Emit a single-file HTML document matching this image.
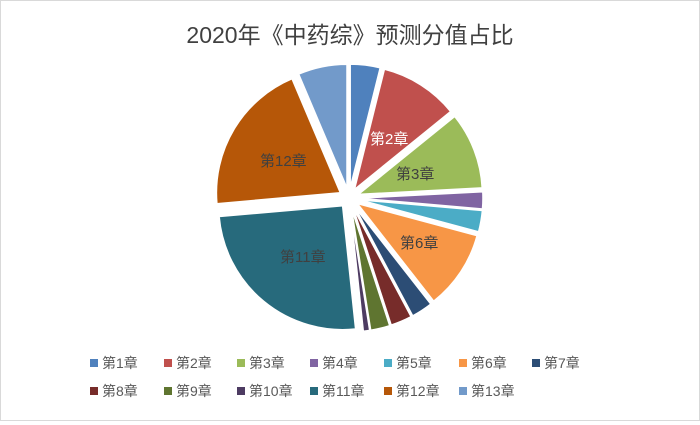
<!DOCTYPE html>
<html><head><meta charset="utf-8"><style>
body{margin:0;background:#fff}
#c{width:698px;height:419px;border:1px solid #d9d9d9;position:relative;font-family:"Liberation Sans","Noto Sans CJK SC",sans-serif}
</style></head><body><div id="c">
<svg width="698" height="419" id="s">
<text x="349" y="42" text-anchor="middle" font-size="23" fill="#404040" font-family="Liberation Sans, Noto Sans CJK SC, sans-serif">2020年《中药综》预测分值占比</text>
<g id="pie"></g>
<g font-size="15" fill="#404040" font-family="Liberation Sans, Noto Sans CJK SC, sans-serif">
<text x="369" y="143" fill="#fff">第2章</text>
<text x="395" y="178">第3章</text>
<text x="399" y="247">第6章</text>
<text x="279" y="261">第11章</text>
<text x="259" y="165">第12章</text>
</g>
<g id="leg" font-size="14" fill="#595959" font-family="Liberation Sans, Noto Sans CJK SC, sans-serif"></g>
</svg>
<script>
var b=[0,14,51,87,95,105,142,152,162,171,174,265,337,360];
var col=["#4f81bd","#c0504d","#9bbb59","#8064a2","#4bacc6","#f79646","#2c4d75","#772c2a","#5f7530","#4d3b62","#276a7c","#b65708","#729aca"];
var cx=348,cy=197,R=124,E=10,h="";
function P(a,r,ox,oy){var t=a*Math.PI/180;return [(ox+r*Math.sin(t)).toFixed(1),(oy-r*Math.cos(t)).toFixed(1)];}
for(var i=0;i<13;i++){var m=(b[i]+b[i+1])/2*Math.PI/180,ox=cx+E*Math.sin(m),oy=cy-E*Math.cos(m);
var p1=P(b[i],R,ox,oy),p2=P(b[i+1],R,ox,oy),l=(b[i+1]-b[i])>180?1:0;
h+='<path d="M'+ox.toFixed(1)+','+oy.toFixed(1)+' L'+p1+' A'+R+','+R+' 0 '+l+' 1 '+p2+' Z" fill="'+col[i]+'" stroke="#fff" stroke-width="1.5"/>';}
document.getElementById("pie").innerHTML=h;
var xs=[93,167,240,313,387,462,535],g="";
for(var i=0;i<13;i++){var r=i<7?0:1,x=xs[r?i-7:i],y=r?390:362;
g+='<rect x="'+(x-4)+'" y="'+(y-4)+'" width="8" height="8" fill="'+col[i]+'"/><text x="'+(x+8)+'" y="'+(y+5)+'">第'+(i+1)+'章</text>';}
document.getElementById("leg").innerHTML=g;
</script>
</div></body></html>
